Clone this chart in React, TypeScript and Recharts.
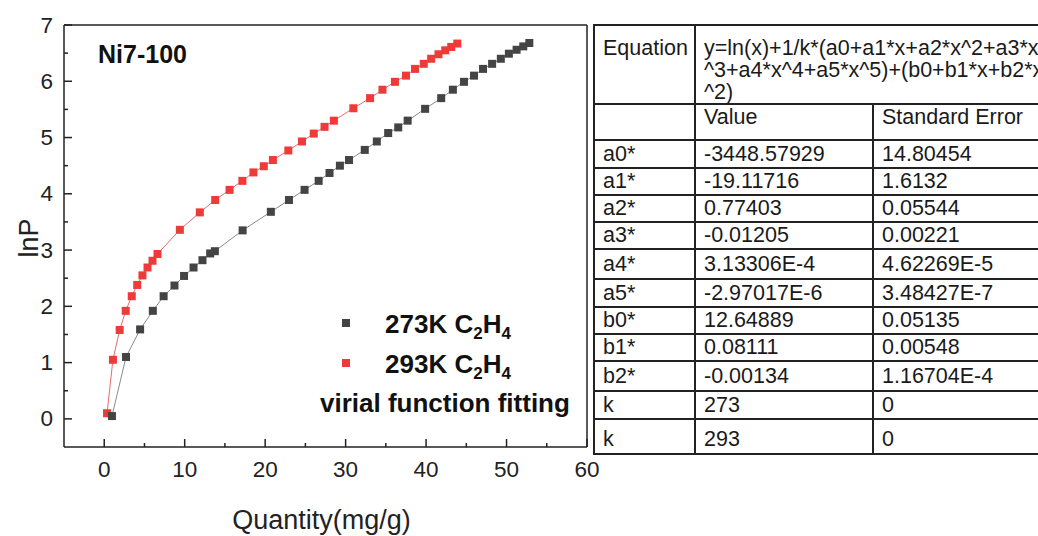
import React from 'react';
import { ScatterChart, Scatter, XAxis, YAxis, ReferenceLine, Label } from 'recharts';

// ---- data ----
const qty273 = [0.96, 2.71, 4.46, 6.04, 7.38, 8.73, 9.92, 11.1, 12.21, 13.17, 13.75, 17.2, 20.71, 22.96, 24.9, 26.65, 28.0, 29.29, 30.42, 32.38, 33.88, 35.29, 36.54, 37.71, 39.88, 41.88, 43.33, 44.71, 45.96, 47.08, 48.21, 49.29, 50.29, 51.25, 52.08, 52.83];
const lnp273 = [0.05, 1.1, 1.59, 1.92, 2.18, 2.37, 2.54, 2.69, 2.82, 2.94, 2.98, 3.35, 3.68, 3.89, 4.07, 4.23, 4.37, 4.5, 4.6, 4.78, 4.93, 5.08, 5.18, 5.3, 5.51, 5.7, 5.85, 5.99, 6.1, 6.22, 6.31, 6.4, 6.49, 6.56, 6.62, 6.68];
const qty293 = [0.35, 1.08, 1.92, 2.67, 3.42, 4.1, 4.75, 5.38, 6.0, 6.62, 9.4, 11.88, 13.79, 15.58, 17.17, 18.54, 19.83, 20.96, 22.88, 24.58, 26.04, 27.38, 28.54, 30.96, 33.04, 34.58, 36.13, 37.5, 38.63, 39.71, 40.63, 41.54, 42.38, 43.13, 43.88];
const lnp293 = [0.1, 1.05, 1.58, 1.92, 2.18, 2.38, 2.55, 2.69, 2.81, 2.93, 3.36, 3.67, 3.89, 4.07, 4.23, 4.38, 4.49, 4.6, 4.77, 4.93, 5.07, 5.19, 5.3, 5.52, 5.7, 5.85, 5.99, 6.1, 6.22, 6.31, 6.4, 6.48, 6.55, 6.61, 6.67];
const xTicks = [0, 5, 10, 15, 20, 25, 30, 35, 40, 45, 50, 55, 60];
const yTicks = [0, 0.5, 1, 1.5, 2, 2.5, 3, 3.5, 4, 4.5, 5, 5.5, 6, 6.5, 7];
const sampleName = 'Ni7-100';
const xTitle = 'Quantity(mg/g)';
const yTitle = 'lnP';
const fitLabel = 'virial function fitting';
const equationLines = ['y=ln(x)+1/k*(a0+a1*x+a2*x^2+a3*x', '^3+a4*x^4+a5*x^5)+(b0+b1*x+b2*x', '^2)'];
const paramNames = ['a0*', 'a1*', 'a2*', 'a3*', 'a4*', 'a5*', 'b0*', 'b1*', 'b2*', 'k', 'k'];
const paramValues = ['-3448.57929', '-19.11716', '0.77403', '-0.01205', '3.13306E-4', '-2.97017E-6', '12.64889', '0.08111', '-0.00134', '273', '293'];
const paramErrors = ['14.80454', '1.6132', '0.05544', '0.00221', '4.62269E-5', '3.48427E-7', '0.05135', '0.00548', '1.16704E-4', '0', '0'];

const data273 = qty273.map((x, i) => ({ x, y: lnp273[i] }));
const data293 = qty293.map((x, i) => ({ x, y: lnp293[i] }));

// ---- styles ----
const FONT = '"Liberation Sans", Arial, sans-serif';
const AXIS = '#222';
const BLACK = '#444444';
const RED = '#ef3a3a';
const rowHeights = [28, 26, 27, 26, 30, 28, 27, 27, 30, 28, 35];

const Y_MARGIN = 11;
const X_MARGIN = 14;
const TICK_FS = 22.5;

const YTick = (props: any) => {
  const { x, y, payload } = props;
  const v = payload.value;
  const major = Math.abs(v - Math.round(v)) < 1e-9;
  const x0 = x + Y_MARGIN;
  return (
    <g>
      <line x1={x0} x2={x0 + (major ? 8 : 4)} y1={y} y2={y} stroke={AXIS} strokeWidth={1.5} />
      {major && (
        <text x={x} y={y} textAnchor="end" dominantBaseline="central" fontSize={TICK_FS} fill="#222" fontFamily={FONT}>
          {v}
        </text>
      )}
    </g>
  );
};

const XTick = (props: any) => {
  const { x, y, payload } = props;
  const v = payload.value;
  const major = v % 10 === 0;
  const y0 = y - X_MARGIN;
  return (
    <g>
      <line x1={x} x2={x} y1={y0} y2={y0 - (major ? 8 : 4)} stroke={AXIS} strokeWidth={1.5} />
      {major && (
        <text x={x} y={y} dy="0.71em" textAnchor="middle" fontSize={TICK_FS} fill="#222" fontFamily={FONT}>
          {v}
        </text>
      )}
    </g>
  );
};

const makeSquare = (fill: string) => (p: any) => (
  <rect x={p.cx - 4} y={p.cy - 4} width={8} height={8} fill={fill} />
);

const cellBase: React.CSSProperties = {
  border: '2px solid #222',
  padding: '0 0 0 8px',
  whiteSpace: 'nowrap',
  overflow: 'visible',
  textAlign: 'left',
};

export default function App() {
  return (
    <div style={{ position: 'absolute', left: 0, top: 0, width: 1038, height: 536, overflow: 'hidden', background: '#fff', fontFamily: FONT }}>
      <ScatterChart width={620} height={536} margin={{ top: 25, right: 33, bottom: 0, left: 0 }}>
        <XAxis
          type="number"
          dataKey="x"
          domain={[-5, 60]}
          ticks={xTicks}
          allowDataOverflow
          height={89}
          tickSize={0}
          tickMargin={X_MARGIN}
          tickLine={false}
          axisLine={{ stroke: AXIS, strokeWidth: 1.5 }}
          tick={<XTick />}
          interval={0}
        >
          <Label
            content={(p: any) => {
              const vb = p.viewBox;
              return (
                <text x={vb.x + vb.width / 2 - 4} y={vb.y + 82} textAnchor="middle" fontSize={27} fill="#222" fontFamily={FONT}>
                  {xTitle}
                </text>
              );
            }}
          />
        </XAxis>
        <YAxis
          type="number"
          dataKey="y"
          domain={[-0.5, 7]}
          ticks={yTicks}
          allowDataOverflow
          width={64}
          tickSize={0}
          tickMargin={Y_MARGIN}
          tickLine={false}
          axisLine={{ stroke: AXIS, strokeWidth: 1.5 }}
          tick={<YTick />}
          interval={0}
        >
          <Label
            content={(p: any) => {
              const vb = p.viewBox;
              const cx = vb.x + 29;
              const cy = vb.y + vb.height / 2 + 2;
              return (
                <text x={cx} y={cy} transform={`rotate(-90 ${cx} ${cy})`} textAnchor="middle" dominantBaseline="central" fontSize={27} fill="#222" fontFamily={FONT}>
                  {yTitle}
                </text>
              );
            }}
          />
        </YAxis>
        <ReferenceLine y={7} stroke={AXIS} strokeWidth={1.5} ifOverflow="extendDomain" />
        <ReferenceLine x={60} stroke={AXIS} strokeWidth={1.5} ifOverflow="extendDomain" />
        <Scatter
          data={data293}
          isAnimationActive={false}
          line={{ stroke: '#e86a6a', strokeWidth: 1 }}
          lineType="joint"
          shape={makeSquare(RED)}
        />
        <Scatter
          data={data273}
          isAnimationActive={false}
          line={{ stroke: '#8a8a8a', strokeWidth: 1 }}
          lineType="joint"
          shape={makeSquare(BLACK)}
        />
      </ScatterChart>

      <svg width={620} height={536} style={{ position: 'absolute', left: 0, top: 0, pointerEvents: 'none' }}>
        <text x={98} y={63} fontSize={25} fontWeight="bold" fill="#111" fontFamily={FONT}>{sampleName}</text>
        <rect x={342} y={319} width={8} height={8} fill={BLACK} />
        <text x={385} y={333} fontSize={26} fontWeight="bold" fill="#111" fontFamily={FONT}>
          273K C<tspan fontSize={17} dy={6}>2</tspan><tspan dy={-6}>H</tspan><tspan fontSize={17} dy={6}>4</tspan>
        </text>
        <rect x={342} y={359} width={8} height={8} fill={RED} />
        <text x={385} y={373} fontSize={26} fontWeight="bold" fill="#111" fontFamily={FONT}>
          293K C<tspan fontSize={17} dy={6}>2</tspan><tspan dy={-6}>H</tspan><tspan fontSize={17} dy={6}>4</tspan>
        </text>
        <text x={320} y={412} fontSize={26} fontWeight="bold" fill="#111" fontFamily={FONT}>{fitLabel}</text>
      </svg>

      <table
        style={{
          position: 'absolute',
          left: 593,
          top: 24,
          borderCollapse: 'collapse',
          tableLayout: 'fixed',
          width: 480,
          fontFamily: FONT,
          fontSize: 21.5,
          color: '#1a1a1a',
          background: '#fff',
        }}
      >
        <colgroup>
          <col style={{ width: 101 }} />
          <col style={{ width: 178 }} />
          <col style={{ width: 201 }} />
        </colgroup>
        <tbody>
          <tr style={{ height: 76 }}>
            <td style={{ ...cellBase, verticalAlign: 'top', paddingTop: 11, lineHeight: '22px' }}>Equation</td>
            <td colSpan={2} style={{ ...cellBase, verticalAlign: 'top', paddingTop: 11, lineHeight: '22px' }}>
              {equationLines.map((l, i) => (
                <div key={i}>{l}</div>
              ))}
            </td>
          </tr>
          <tr style={{ height: 36 }}>
            <td style={{ ...cellBase }}></td>
            <td style={{ ...cellBase, verticalAlign: 'top', paddingTop: 0 }}>Value</td>
            <td style={{ ...cellBase, verticalAlign: 'top', paddingTop: 0 }}>Standard Error</td>
          </tr>
          {paramNames.map((n, i) => (
            <tr key={i} style={{ height: rowHeights[i] }}>
              <td style={{ ...cellBase, verticalAlign: 'middle', paddingTop: i === paramNames.length - 1 ? 6 : 0 }}>{n}</td>
              <td style={{ ...cellBase, verticalAlign: 'middle', paddingTop: i === paramNames.length - 1 ? 6 : 0 }}>{paramValues[i]}</td>
              <td style={{ ...cellBase, verticalAlign: 'middle', paddingTop: i === paramNames.length - 1 ? 6 : 0 }}>{paramErrors[i]}</td>
            </tr>
          ))}
        </tbody>
      </table>
    </div>
  );
}
